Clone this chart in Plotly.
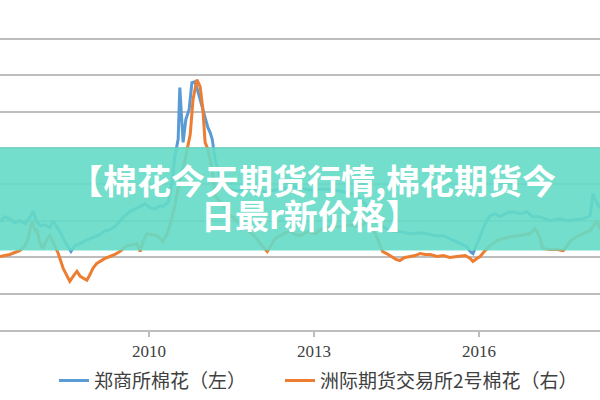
import plotly.graph_objects as go

# ---- data ----
zce_years = [2007.29, 2007.38, 2007.47, 2007.56, 2007.65, 2007.75, 2007.84, 2007.89, 2007.95,
             2008.02, 2008.11, 2008.20, 2008.25, 2008.33, 2008.38, 2008.47, 2008.53, 2008.58,
             2008.65, 2008.75, 2008.84, 2008.93, 2009.02, 2009.11, 2009.20, 2009.29, 2009.38,
             2009.47, 2009.56, 2009.65, 2009.75, 2009.84, 2009.93, 2010.02, 2010.11, 2010.20,
             2010.25, 2010.35, 2010.42, 2010.47, 2010.53, 2010.56, 2010.60, 2010.62, 2010.67,
             2010.73, 2010.78, 2010.84, 2010.89, 2010.93, 2010.98, 2011.02, 2011.07, 2011.11,
             2011.15, 2011.20, 2011.29, 2011.38, 2011.56, 2011.84, 2012.11, 2012.38, 2012.65,
             2012.93, 2013.20, 2013.47, 2013.75, 2013.93, 2014.05, 2014.15, 2014.25, 2014.38,
             2014.56, 2014.75, 2014.93, 2015.05, 2015.20, 2015.35, 2015.47, 2015.65, 2015.78,
             2015.84, 2015.89, 2015.95, 2016.02, 2016.11, 2016.20, 2016.29, 2016.38, 2016.51,
             2016.62, 2016.75, 2016.87, 2016.98, 2017.11, 2017.29, 2017.47, 2017.60, 2017.75,
             2017.89, 2018.02, 2018.07, 2018.15, 2018.20]
zce_values = [14880, 15560, 15290, 14740, 15020, 14610, 15560, 16380, 15020,
              14340, 14470, 14060, 15020, 14200, 13520, 12150, 11470, 10790,
              11600, 11880, 12290, 12560, 12830, 13110, 13650, 13790, 14200,
              15020, 15700, 16250, 16660, 17070, 17340, 16790, 16660, 17070,
              16930, 17610, 20340, 23890, 26210, 33310, 28260, 25800, 28940,
              30310, 33990, 34130, 32770, 31670, 30030, 28940, 27850, 27170,
              26210, 23480, 21020, 19660, 19110, 19390, 18980, 19390, 19660,
              19250, 19390, 19110, 18570, 17340, 15970, 15150, 14200, 13650,
              13520, 13240, 13380, 13240, 12970, 12970, 12560, 12010, 11470,
              10790, 10510, 11600, 12970, 14610, 15700, 15970, 15560, 16110,
              16250, 15970, 16250, 15560, 15560, 15020, 15290, 15020, 15150,
              15290, 15700, 18700, 17340, 16790]

ice_years = [2007.29, 2007.38, 2007.47, 2007.56, 2007.65, 2007.75, 2007.80, 2007.87, 2007.93,
             2007.96, 2008.02, 2008.07, 2008.15, 2008.20, 2008.25, 2008.29, 2008.35, 2008.44,
             2008.51, 2008.56, 2008.62, 2008.69, 2008.75, 2008.80, 2008.87, 2008.93, 2008.98,
             2009.05, 2009.11, 2009.20, 2009.29, 2009.38, 2009.47, 2009.60, 2009.71, 2009.78,
             2009.84, 2009.89, 2009.96, 2010.05, 2010.15, 2010.20, 2010.25, 2010.33, 2010.38,
             2010.47, 2010.56, 2010.64, 2010.69, 2010.75, 2010.80, 2010.87, 2010.93, 2010.98,
             2011.02, 2011.07, 2011.13, 2011.16, 2011.20, 2011.25, 2011.33, 2011.44, 2011.56,
             2011.65, 2011.80, 2011.93, 2012.02, 2012.15, 2012.24, 2012.29, 2012.42, 2012.56,
             2012.65, 2012.75, 2012.89, 2013.02, 2013.15, 2013.29, 2013.47, 2013.65, 2013.84,
             2013.93, 2014.02, 2014.09, 2014.15, 2014.20, 2014.25, 2014.35, 2014.42, 2014.49,
             2014.56, 2014.65, 2014.75, 2014.84, 2014.93, 2015.02, 2015.11, 2015.24, 2015.35,
             2015.47, 2015.60, 2015.75, 2015.84, 2015.89, 2015.96, 2016.02, 2016.11, 2016.20,
             2016.33, 2016.44, 2016.56, 2016.71, 2016.82, 2016.93, 2017.02, 2017.05, 2017.11,
             2017.16, 2017.29, 2017.42, 2017.53, 2017.60, 2017.65, 2017.78, 2017.89, 2018.02,
             2018.11, 2018.15, 2018.20]
ice_values = [60.6, 61.4, 62.3, 63.9, 65.5, 69.6, 75.4, 89.3, 81.9,
              83.5, 71.3, 67.2, 75.4, 77.8, 72.9, 69.6, 63.1, 50.8,
              45.1, 40.1, 44.2, 48.3, 44.2, 42.6, 41.0, 45.9, 50.8,
              54.9, 56.5, 59.0, 60.6, 62.3, 64.7, 69.6, 70.4, 71.3,
              64.7, 72.9, 79.5, 78.6, 77.8, 75.4, 72.9, 79.5, 86.0,
              102.4, 124.5, 136.8, 149.1, 161.4, 190.0, 206.4, 200.7, 181.8,
              154.8, 149.1, 136.8, 128.6, 110.6, 108.1, 104.0, 95.8, 91.7,
              87.6, 81.9, 77.0, 71.3, 64.7, 71.3, 75.4, 78.6, 81.9,
              78.6, 77.8, 81.1, 79.5, 83.5, 85.2, 85.2, 86.8, 85.2,
              88.5, 87.6, 81.9, 75.4, 69.6, 64.7, 62.3, 60.6, 58.2,
              57.3, 59.8, 60.6, 61.4, 63.1, 62.3, 62.3, 60.6, 61.4,
              59.8, 60.6, 61.4, 59.0, 56.5, 59.0, 60.6, 65.5, 69.6,
              73.7, 75.4, 77.0, 77.8, 78.6, 79.5, 83.5, 81.9, 75.4,
              67.2, 66.3, 66.3, 65.5, 68.8, 72.9, 77.0, 79.5, 81.9,
              87.6, 89.3, 83.5]

tick_years = [2010, 2013, 2016]
tick_labels = ["2010", "2013", "2016"]
offscreen_label = "2007"
series_names = ["郑商所棉花（左）", "洲际期货交易所2号棉花（右）"]
banner_lines = ["【棉花今天期货行情,棉花期货今", "日最r新价格】"]

BLUE = "#5B9BD5"
ORANGE = "#ED7D31"
GRID = "#BDBDBD"

TOP, BOTTOM = 37, 332          # plot area edges in pixels
PLOT_H = BOTTOM - TOP
ZERO_TO_40K = 293              # pixels between 0 and 40000 on the left axis


def py(pix):
    """pixel row -> paper y"""
    return (BOTTOM - pix) / PLOT_H


legend_font = dict(family="Noto Sans CJK SC", size=19, color="#404040")

fig = go.Figure()
fig.add_trace(go.Scatter(x=zce_years, y=zce_values, mode="lines", name=series_names[0],
                         line=dict(color=BLUE, width=3), yaxis="y", legend="legend"))
fig.add_trace(go.Scatter(x=ice_years, y=ice_values, mode="lines", name=series_names[1],
                         line=dict(color=ORANGE, width=3), yaxis="y2", legend="legend2"))

fig.update_layout(
    width=600, height=400,
    margin=dict(l=0, r=0, t=TOP, b=400 - BOTTOM),
    paper_bgcolor="white", plot_bgcolor="white",
    showlegend=True,
    legend=dict(orientation="h", x=54 / 600, xanchor="left", y=py(383), yanchor="middle",
                font=legend_font, bgcolor="rgba(0,0,0,0)"),
    legend2=dict(orientation="h", x=280 / 600, xanchor="left", y=py(383), yanchor="middle",
                 font=legend_font, bgcolor="rgba(0,0,0,0)"),
    xaxis=dict(range=[2007.291, 2018.2], tickvals=tick_years, ticktext=tick_labels,
               showgrid=False, zeroline=False, showline=True, linecolor=GRID, linewidth=1.5,
               ticks="outside", ticklen=5, tickcolor=GRID, tickwidth=1.5,
               tickfont=dict(family="Liberation Serif", size=17, color="#404040")),
    yaxis=dict(range=[0, 40000 * PLOT_H / ZERO_TO_40K], dtick=5000, showticklabels=False,
               showgrid=True, gridcolor=GRID, gridwidth=1.5, zeroline=False,
               showline=False, ticks=""),
    yaxis2=dict(range=[0, 240 * PLOT_H / ZERO_TO_40K], dtick=30, overlaying="y", side="right",
                showticklabels=False, showgrid=False, zeroline=False, showline=False, ticks=""),
    shapes=[dict(type="rect", xref="paper", yref="paper", x0=0, x1=1,
                 y0=py(252), y1=py(148), layer="above",
                 fillcolor="rgba(100,218,198,0.9)", line=dict(width=0))],
    annotations=[
        dict(text=offscreen_label, xref="paper", yref="paper", x=-17 / 600, y=py(353),
             xanchor="center", yanchor="middle", showarrow=False,
             font=dict(family="Liberation Serif", size=17, color="#404040")),
        dict(text="<b>" + banner_lines[0] + "</b>", xref="paper", yref="paper",
             x=312 / 600, y=py(180), xanchor="center", yanchor="middle",
             showarrow=False, font=dict(family="Noto Sans CJK SC", size=34, color="white")),
        dict(text="<b>" + banner_lines[1] + "</b>", xref="paper", yref="paper",
             x=310 / 600, y=py(216), xanchor="center", yanchor="middle",
             showarrow=False, font=dict(family="Noto Sans CJK SC", size=34, color="white")),
    ],
)

fig.write_html("out.html")
